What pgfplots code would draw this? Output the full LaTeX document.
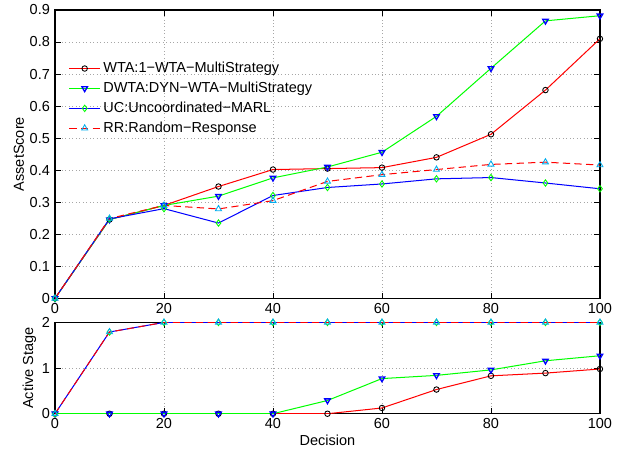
\documentclass[border=0pt]{standalone}
\usepackage{fontspec}
\setmainfont{Liberation Sans}
\usepackage{pgfplots}
\pgfplotsset{compat=1.18}

\pgfplotsset{
  panel/.style={
    scale only axis, width=376pt,
    xmin=0, xmax=100, xtick={0,20,...,100},
    grid=major, grid style={dotted, gray!70, line width=0.5pt},
    axis line style={line width=0.9pt},
    tick style={black, line width=0.6pt},
    major tick length=4pt,
    ylabel shift=-3pt,
    /pgf/number format/assume math mode=true,
    every axis plot/.append style={line width=0.7pt},
  },
  wta/.style={color=red, mark=o, mark size=1.9pt, mark options={draw=black, solid, line width=0.6pt}},
  dwta/.style={color=green, mark=triangle, mark size=2.2pt, mark options={draw=blue, solid, rotate=180, line width=0.9pt}},
  uc/.style={color=blue, mark=diamond, mark size=2.2pt, mark options={draw=green, solid, line width=0.6pt}},
  rr/.style={color=red, dash pattern=on 5pt off 3pt, mark=triangle, mark size=2.4pt, mark options={draw=cyan, solid, line width=0.6pt}},
}

\begin{document}
\begin{tikzpicture}
\begin{axis}[panel, name=top,
  height=199pt,
  ymin=0, ymax=0.9, ytick={0,0.1,...,0.9},
  ylabel={AssetScore},
  legend cell align=left,
  legend style={at={(rel axis cs:0.025,0.83)}, anchor=north west, draw=none, fill=none,
    row sep=1pt, font=\normalsize, inner sep=0pt},
  legend image code/.code={%
    \draw[mark repeat=2, mark phase=2, #1] plot coordinates {(0cm,0cm) (0.37cm,0cm) (0.74cm,0cm)};},
]
\addplot[wta] coordinates {
  (0,0) (10,0.246) (20,0.290) (30,0.349) (40,0.402) (50,0.405)
  (60,0.408) (70,0.440) (80,0.512) (90,0.650) (100,0.810)
};
\addlegendentry{WTA:1−WTA−MultiStrategy}
\addplot[dwta] coordinates {
  (0,0) (10,0.246) (20,0.290) (30,0.319) (40,0.376) (50,0.410)
  (60,0.456) (70,0.568) (80,0.718) (90,0.866) (100,0.882)
};
\addlegendentry{DWTA:DYN−WTA−MultiStrategy}
\addplot[uc] coordinates {
  (0,0) (10,0.248) (20,0.280) (30,0.235) (40,0.321) (50,0.346)
  (60,0.357) (70,0.373) (80,0.377) (90,0.360) (100,0.342)
};
\addlegendentry{UC:Uncoordinated−MARL}
\addplot[rr] coordinates {
  (0,0) (10,0.249) (20,0.290) (30,0.279) (40,0.305) (50,0.365)
  (60,0.386) (70,0.402) (80,0.418) (90,0.425) (100,0.416)
};
\addlegendentry{RR:Random−Response}
\end{axis}

\begin{axis}[panel, name=bottom,
  at={(top.south west)}, anchor=north west, yshift=-16.6pt,
  height=63pt,
  ymin=0, ymax=2, ytick={0,1,2},
  ylabel={Active Stage}, xlabel={Decision},
  xlabel style={yshift=3pt},
]
\addplot[wta] coordinates {
  (0,0) (10,0) (20,0) (30,0) (40,0) (50,0)
  (60,0.126) (70,0.53) (80,0.83) (90,0.89) (100,0.98)
};
\addplot[dwta] coordinates {
  (0,0) (10,0) (20,0) (30,0) (40,0) (50,0.29)
  (60,0.77) (70,0.84) (80,0.96) (90,1.16) (100,1.27)
};
\addplot[uc] coordinates {
  (0,0) (10,1.79) (20,2) (30,2) (40,2) (50,2)
  (60,2) (70,2) (80,2) (90,2) (100,2)
};
\addplot[rr] coordinates {
  (0,0) (10,1.79) (20,2) (30,2) (40,2) (50,2)
  (60,2) (70,2) (80,2) (90,2) (100,2)
};
\end{axis}

\path ([shift={(-37.95pt,5.52pt)}]top.north west) rectangle ([shift={(398.8pt,-302.9pt)}]top.north west);
\end{tikzpicture}
\end{document}
